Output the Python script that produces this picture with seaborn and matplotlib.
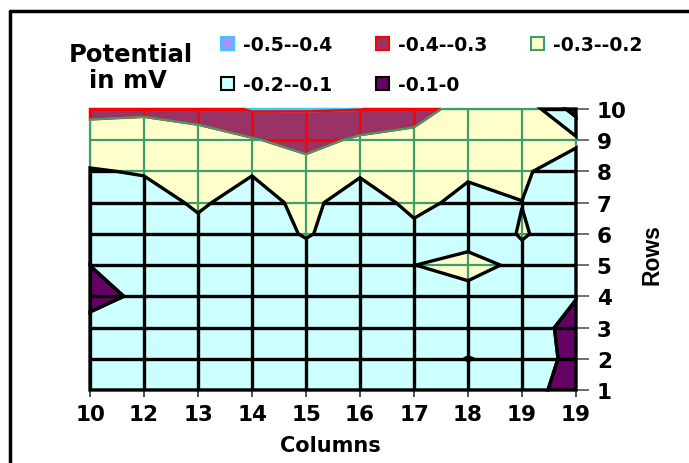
import numpy as np
import matplotlib
matplotlib.use("Agg")
import matplotlib.pyplot as plt
import seaborn as sns
from matplotlib.patches import Patch, PathPatch
from matplotlib.collections import LineCollection
from matplotlib.lines import Line2D

# ---------------- data ----------------
col_labels = ["10", "12", "13", "14", "15", "16", "17", "18", "19", "19"]
row_labels = [1, 2, 3, 4, 5, 6, 7, 8, 9, 10]
levels = [-0.5, -0.4, -0.3, -0.2, -0.1, 0.0]
band_labels = ["-0.5--0.4", "-0.4--0.3", "-0.3--0.2", "-0.2--0.1", "-0.1-0"]
fill_colors = ["#9999FF", "#993366", "#FFFFCC", "#CCFFFF", "#660066"]
edge_colors = ["#33CCFF", "#FF0000", "#3C9E68", "#000000", "#000000"]

row_01 = [-0.17, -0.17, -0.17, -0.17, -0.17, -0.17, -0.17, -0.17, -0.174, -0.02]
row_02 = [-0.17, -0.17, -0.17, -0.17, -0.17, -0.17, -0.17, -0.202, -0.18, -0.06]
row_03 = [-0.15, -0.17, -0.17, -0.17, -0.17, -0.17, -0.17, -0.17, -0.16, -0.06]
row_04 = [-0.05, -0.13, -0.17, -0.17, -0.17, -0.17, -0.18, -0.17, -0.17, -0.105]
row_05 = [-0.101, -0.15, -0.17, -0.17, -0.17, -0.17, -0.199, -0.23, -0.18, -0.17]
row_06 = [-0.16, -0.17, -0.18, -0.17, -0.205, -0.17, -0.18, -0.16, -0.205, -0.17]
row_07 = [-0.17, -0.17, -0.21, -0.17, -0.22, -0.16, -0.22, -0.18, -0.199, -0.16]
row_08 = [-0.195, -0.205, -0.22, -0.205, -0.25, -0.21, -0.24, -0.21, -0.215, -0.14]
row_09 = [-0.24, -0.24, -0.25, -0.29, -0.34, -0.28, -0.25, -0.25, -0.25, -0.22]
row_10 = [-0.33, -0.32, -0.35, -0.41, -0.405, -0.403, -0.37, -0.23, -0.277, -0.06]

Z = np.array([row_01, row_02, row_03, row_04, row_05,
              row_06, row_07, row_08, row_09, row_10])
xs = np.arange(len(col_labels))
ys = np.array(row_labels)

# ---------------- style ----------------
sns.set_theme(style="white")
plt.rcParams["font.family"] = ["DejaVu Sans"]
plt.rcParams["font.weight"] = "bold"
plt.rcParams["text.color"] = "black"
plt.rcParams["xtick.color"] = "black"
plt.rcParams["ytick.color"] = "black"
plt.rcParams["axes.labelcolor"] = "black"

fig = plt.figure(figsize=(6.89, 4.64), dpi=100)
ax = fig.add_axes([90 / 689, 1 - 391 / 464, (576 - 90) / 689, (391 - 110) / 464])

cs = ax.contourf(xs, ys, Z, levels=levels, colors=fill_colors, zorder=1)

band_lw = [1.8, 1.8, 1.6, 2.4, 2.4]
paths = cs.get_paths()
segs = [[(c, ys[0]), (c, ys[-1])] for c in xs] + \
       [[(xs[0], r), (xs[-1], r)] for r in ys]
for i, p in enumerate(paths):
    if p is None or len(p.vertices) == 0:
        continue
    lc = LineCollection(segs, colors=edge_colors[i], linewidths=band_lw[i],
                        zorder=2 + i * 0.1)
    ax.add_collection(lc)
    lc.set_clip_path(p, ax.transData)
    outline = PathPatch(p, facecolor="none", edgecolor=edge_colors[i],
                        linewidth=band_lw[i], zorder=2.05 + i * 0.1,
                        clip_on=False, joinstyle="miter")
    ax.add_patch(outline)

ax.set_xlim(xs[0], xs[-1])
ax.set_ylim(ys[0], ys[-1])
ax.set_xticks(xs)
ax.set_xticklabels(col_labels)
ax.yaxis.tick_right()
ax.set_yticks(ys)
ax.set_yticklabels([str(v) for v in row_labels])
for s in ax.spines.values():
    s.set_visible(False)
ax.tick_params(axis="x", direction="out", length=5, width=1.2, color="#333333",
               labelcolor="black", pad=5, labelsize=15.5, bottom=True)
ax.tick_params(axis="y", direction="out", length=9, width=1.2, color="#555555",
               labelcolor="black", pad=6, labelsize=15.5, right=True, left=False)
for t in ax.get_xticklabels() + ax.get_yticklabels():
    t.set_fontweight("bold")

fig.text(330 / 689, 1 - 446 / 464, "Columns", ha="center", va="center",
         fontsize=15, fontweight="bold", color="black")
fig.text(652 / 689, 1 - 255 / 464, "Rows", ha="center", va="center",
         rotation=90, fontsize=16.5, fontweight="bold", color="black",
         family=["Liberation Sans"])

# legend
handles = [Patch(facecolor=fc, edgecolor=ec, linewidth=1.5)
           for fc, ec in zip(fill_colors, edge_colors)]
order = [0, 3, 1, 4, 2]
leg = fig.legend([handles[k] for k in order], [band_labels[k] for k in order],
                 ncol=3, loc="upper left", bbox_to_anchor=(221 / 689, 1 - 36 / 464),
                 frameon=False, prop={"size": 13.5, "weight": "bold"},
                 handlelength=0.7, handleheight=0.7, handletextpad=0.5,
                 columnspacing=2.3, labelspacing=1.1, borderpad=0, borderaxespad=0)
for t in leg.get_texts():
    t.set_color("black")
fig.text(131 / 689, 1 - 55 / 464, "Potential", ha="center", va="center",
         fontsize=17.5, fontweight="bold", color="black")
fig.text(128 / 689, 1 - 81 / 464, "in mV", ha="center", va="center",
         fontsize=17.5, fontweight="bold", color="black")

# outer chart border (left and top visible)
fig.add_artist(Line2D([10 / 689, 10 / 689], [0, 1 - 12 / 464],
                      transform=fig.transFigure, color="black", lw=2.5))
fig.add_artist(Line2D([10 / 689, 1], [1 - 12 / 464, 1 - 12 / 464],
                      transform=fig.transFigure, color="black", lw=2.5))

fig.savefig("out.png", dpi=100)
